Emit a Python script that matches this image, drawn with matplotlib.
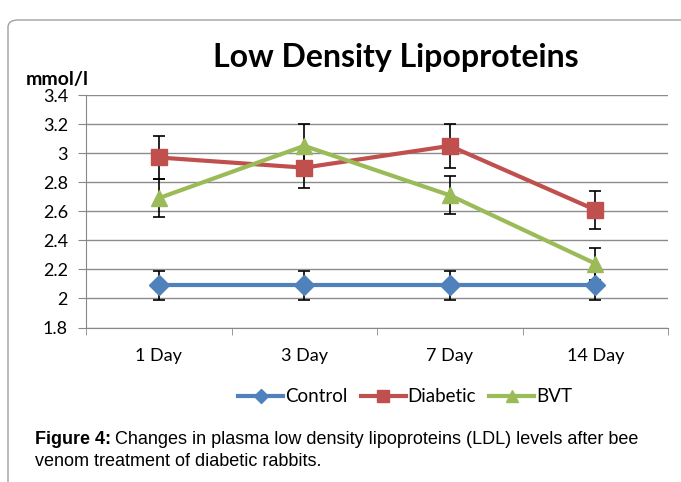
import matplotlib.pyplot as plt
from matplotlib.patches import FancyBboxPatch

# datos
dias = ['1 Day', '3 Day', '7 Day', '14 Day']
control = [2.09, 2.09, 2.09, 2.09]
control_err = [0.10, 0.10, 0.10, 0.10]
diabetic = [2.97, 2.90, 3.05, 2.61]
diabetic_err = [0.15, 0.14, 0.15, 0.13]
bvt = [2.69, 3.05, 2.71, 2.24]
bvt_err = [0.13, 0.15, 0.13, 0.11]
y_ticks = [1.8, 2.0, 2.2, 2.4, 2.6, 2.8, 3.0, 3.2, 3.4]
y_labels = ['1.8', '2', '2.2', '2.4', '2.6', '2.8', '3', '3.2', '3.4']

fuente = 'Lato'
W, H = 681, 482

fig = plt.figure(figsize=(W / 100, H / 100), dpi=100)
ax = fig.add_axes([86 / W, 1 - 327.5 / H, 582 / W, 232.5 / H])

# marco redondeado (cortado a la derecha y abajo)
marco = FancyBboxPatch((8 / W, -20 / H), 700 / W, 482 / H,
                       boxstyle='round,pad=0,rounding_size=0.015',
                       transform=fig.transFigure, fill=False,
                       edgecolor='#a0a0a0', linewidth=1.0, clip_on=False)
fig.patches.append(marco)

x = list(range(len(dias)))
series = [
    ('Control', control, control_err, '#4F81BD', 'D', 10),
    ('Diabetic', diabetic, diabetic_err, '#C0504D', 's', 12),
    ('BVT', bvt, bvt_err, '#9BBB59', '^', 12),
]
for nombre, vals, err, color, marca, ms in series:
    ax.errorbar(x, vals, yerr=err, fmt='none', ecolor='black',
                elinewidth=1.2, capsize=4, capthick=1.2, zorder=2)
    ax.plot(x, vals, color=color, linewidth=3, marker=marca,
            markersize=ms, label=nombre, zorder=3)

ax.set_xlim(-0.5, 3.5)
ax.set_ylim(1.8, 3.4)
ax.set_yticks(y_ticks)
ax.set_yticklabels(y_labels, fontfamily=fuente, fontsize=13)
ax.set_xticks(x)
ax.set_xticklabels(dias, fontfamily=fuente, fontsize=13)
ax.set_xticks([-0.5, 0.5, 1.5, 2.5, 3.5], minor=True)
ax.tick_params(axis='x', which='major', length=0, pad=15)
ax.tick_params(axis='x', which='minor', length=5, color='#888888')
ax.tick_params(axis='y', length=6, color='#888888', pad=7)
ax.grid(axis='y', color='#8c8c8c', linewidth=1.0)
ax.set_axisbelow(True)
for lado in ['top', 'right']:
    ax.spines[lado].set_visible(False)
ax.spines['left'].set_color('#888888')
ax.spines['bottom'].set_color('#888888')

fig.text(396 / W, 1 - 57 / H, 'Low Density Lipoproteins', fontfamily=fuente,
         fontweight='bold', fontsize=23, ha='center', va='center')
fig.text(26 / W, 1 - 80 / H, 'mmol/l', fontfamily=fuente, fontweight='bold',
         fontsize=14, ha='left', va='center')

fig.legend(loc='center', bbox_to_anchor=(405 / W, 1 - 397 / H), ncol=3,
           frameon=False, prop={'family': fuente, 'size': 13.5},
           handlelength=2.4, handletextpad=0.1, columnspacing=0.7,
           markerscale=0.7)

# pie de figura
t1 = fig.text(35 / W, 1 - 440 / H, 'Figure 4:', fontfamily='Liberation Sans',
              fontweight='bold', fontsize=13, ha='left', va='center')
fig.canvas.draw()
bb = t1.get_window_extent()
fig.text(bb.x1 / W + 4 / W, 1 - 440 / H,
         'Changes in plasma low density lipoproteins (LDL) levels after bee',
         fontfamily='Liberation Sans', fontsize=13, ha='left', va='center')
fig.text(35 / W, 1 - 462 / H, 'venom treatment of diabetic rabbits.',
         fontfamily='Liberation Sans', fontsize=13, ha='left', va='center')

plt.savefig('out.png', dpi=100)
